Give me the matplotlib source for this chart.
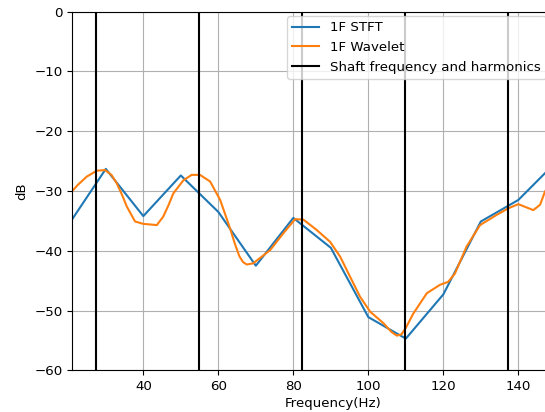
import numpy as np
import matplotlib
matplotlib.use('Agg')
import matplotlib.pyplot as plt

plt.rcParams['font.size'] = 9.6

#STFT estimate, one point every 10 Hz
stft_freq = [20, 30, 40, 50, 60, 70, 80, 90, 100, 110, 120, 130, 140, 150]
stft_db = [-35.7, -26.3, -34.2, -27.4, -33.5, -42.5, -34.5, -39.5, -51.1, -54.7, -47.3, -35.1, -31.5, -25.2]

#Wavelet estimate
wav_freq = [21.07, 22.5, 24.9, 27.6, 29.8, 31.5, 32.9, 34.3, 35.6, 37.8, 40.0, 43.6, 45.3, 46.7, 48.0,
            50.7, 52.9, 55.1, 57.8, 60.5, 63.1, 64.4, 65.6, 66.6, 67.6, 69.3, 73.8, 77.3, 80.5, 82.7, 86.2,
            89.8, 92.5, 95.1, 97.8, 100.5, 104.0, 106.2, 107.6, 108.8, 110.0, 112.0, 113.8, 115.6, 119.1,
            121.3, 123.1, 126.2, 129.8, 134.2, 137.3, 140.0, 142.0, 144.0, 145.8, 147.1, 150.0]
wav_db = [-30.0, -29.0, -27.6, -26.6, -26.5, -27.3, -28.7, -30.6, -32.6, -35.1, -35.5, -35.7, -34.3, -32.4, -30.4,
          -28.2, -27.3, -27.3, -28.4, -31.5, -36.2, -38.8, -40.9, -41.9, -42.3, -42.1, -39.9, -37.1, -34.7, -34.8, -36.5,
          -38.5, -41.0, -44.3, -47.7, -50.2, -52.1, -53.6, -54.2, -54.0, -52.9, -50.5, -48.8, -47.1, -45.7,
          -45.2, -43.8, -39.3, -35.7, -34.0, -32.9, -32.2, -32.7, -33.2, -32.3, -30.1, -27.0]

#Shaft frequency and its harmonics
shaft_freq = 27.45
harmonics = [1, 2, 3, 4, 5]

fig = plt.figure(figsize=(5.45, 4.12), dpi=100)
ax = fig.add_axes([0.1327, 0.1012, 0.956, 0.8704])

ax.plot(stft_freq, stft_db, color='tab:blue', label='1F STFT')
ax.plot(wav_freq, wav_db, color='tab:orange', label='1F Wavelet')
for i, h in enumerate(harmonics):
    ax.axvline(h * shaft_freq, color='black', lw=1.5,
               label='Shaft frequency and harmonics' if i == 0 else None)

ax.set_xlim(21.07, 160)
ax.set_ylim(-60, 0)
ax.set_xticks([40, 60, 80, 100, 120, 140])
ax.set_yticks([0, -10, -20, -30, -40, -50, -60])
ax.grid(True)
ax.set_xlabel('Frequency(Hz)', labelpad=3)
ax.set_ylabel('dB')

ax.legend(loc='upper left', bbox_to_anchor=(287 / 545, 1 - 16 / 412),
          bbox_transform=fig.transFigure, borderaxespad=0)

fig.savefig('out.png', dpi=100)
